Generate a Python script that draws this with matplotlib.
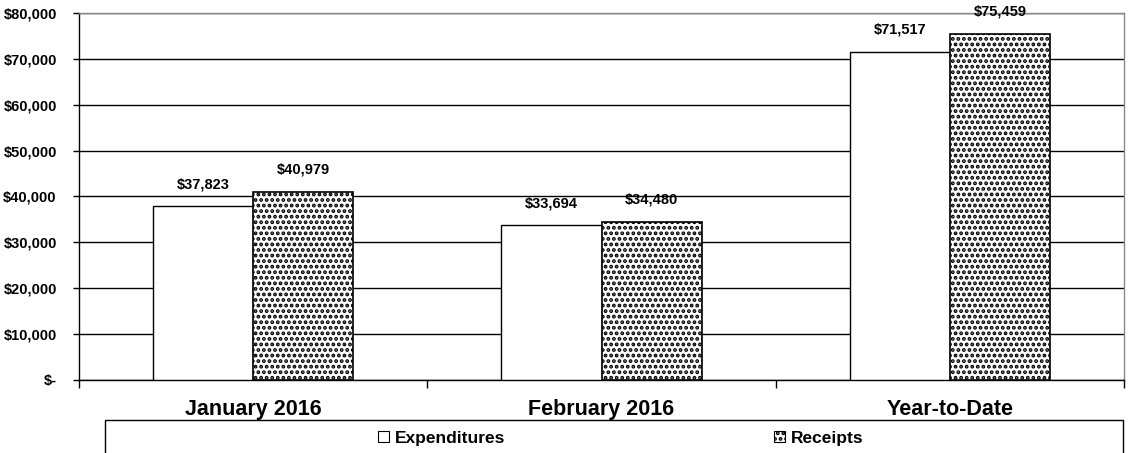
import numpy as np
import matplotlib
matplotlib.use("Agg")
import matplotlib.pyplot as plt
from matplotlib.patches import Patch, Rectangle

# ---- data ----
categories = ["January 2016", "February 2016", "Year-to-Date"]
expenditures = [37823, 33694, 71517]
receipts = [40979, 34480, 75459]
y_ticks = [0, 10000, 20000, 30000, 40000, 50000, 60000, 70000, 80000]


def money(v):
    return "$-" if v == 0 else f"${v:,.0f}"


plt.rcParams['font.family'] = ['Liberation Sans', 'DejaVu Sans']
plt.rcParams['font.weight'] = 'bold'
plt.rcParams['hatch.linewidth'] = 1.9

fig = plt.figure(figsize=(11.31, 4.53), dpi=100)
W, H = 1131, 453
ax = fig.add_axes([79 / W, 1 - 380 / H, (1124 - 79) / W, (380 - 13) / H])

x = np.arange(len(categories))
bw = 100 / 348

b1 = ax.bar(x - bw / 2, expenditures, bw, color='white', edgecolor='black',
            linewidth=1, zorder=3)
b2 = ax.bar(x + bw / 2, receipts, bw, color='white', edgecolor='black',
            hatch='...', linewidth=1.2, zorder=3)

for bars, vals in ((b1, expenditures), (b2, receipts)):
    for r, v in zip(bars, vals):
        ax.annotate(money(v), (r.get_x() + r.get_width() / 2, v),
                    xytext=(0, 16), textcoords='offset points',
                    ha='center', va='center', fontsize=10.5, fontweight='bold')

ax.set_xlim(-0.5, len(categories) - 0.5)
ax.set_ylim(0, 80000)
ax.set_yticks(y_ticks)
ax.set_yticklabels([money(v) for v in y_ticks], fontsize=10.5, fontweight='bold')
ax.tick_params(axis='y', length=4, width=1, pad=12, color='black')

ax.set_xticks(x)
ax.set_xticklabels(categories, fontsize=15.5, fontweight='bold')
ax.set_xticks(np.arange(len(categories) + 1) - 0.5, minor=True)
ax.tick_params(axis='x', which='major', length=0, pad=14)
ax.tick_params(axis='x', which='minor', length=6, width=1, color='black')

ax.yaxis.grid(True, color='black', linewidth=1)
ax.set_axisbelow(True)
for s in ('top', 'right'):
    ax.spines[s].set_color('#888888')
    ax.spines[s].set_linewidth(1)
for s in ('left', 'bottom'):
    ax.spines[s].set_color('black')
    ax.spines[s].set_linewidth(1)

# legend box across the bottom
fig.add_artist(Rectangle((105 / W, 1 - 470 / H), (1123 - 105) / W, 50 / H,
                         transform=fig.transFigure, facecolor='white',
                         edgecolor='black', linewidth=1, clip_on=False))
handles = [Patch(facecolor='white', edgecolor='black', linewidth=0.8, label='Expenditures'),
           Patch(facecolor='white', edgecolor='black', linewidth=0.8, hatch='...', label='Receipts')]
fig.legend(handles=handles, loc='center', bbox_to_anchor=(621 / W, 1 - 438 / H),
           ncol=2, frameon=False, fontsize=12.5, handlelength=0.6, handleheight=0.6,
           handletextpad=0.35, columnspacing=15.5, borderpad=0,
           prop={'weight': 'bold', 'size': 12.5})

fig.savefig("out.png", dpi=100)
